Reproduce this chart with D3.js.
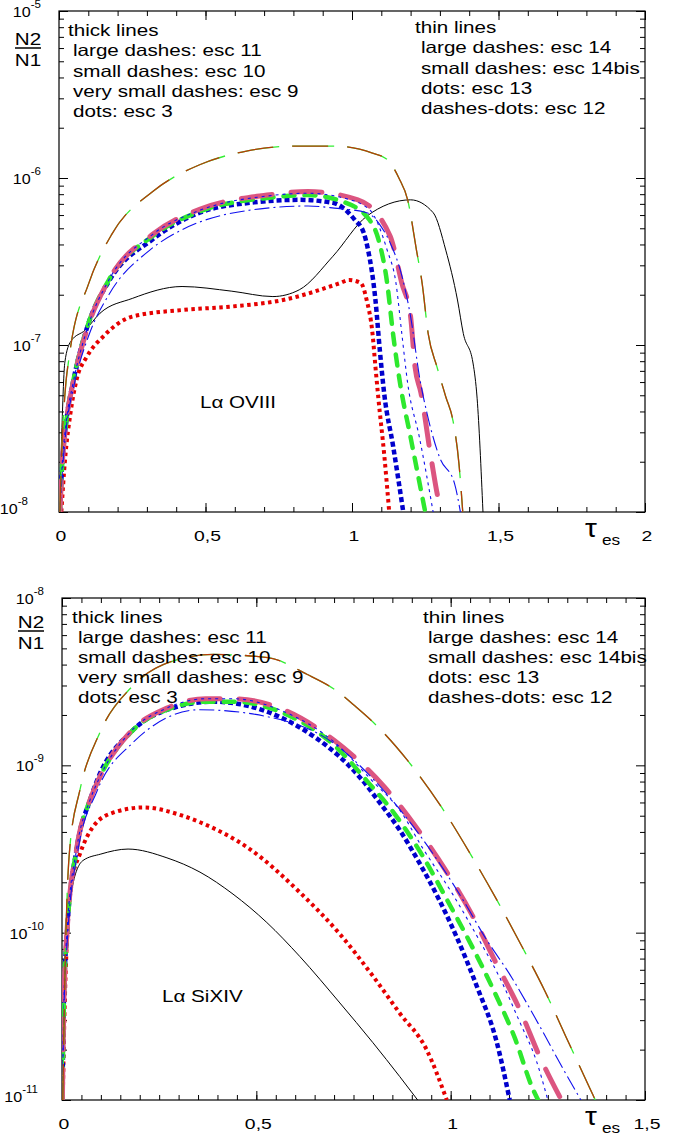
<!DOCTYPE html>
<html>
<head>
<meta charset="utf-8">
<script src="https://cdn.jsdelivr.net/npm/d3@7"></script>
<style>
  body { margin: 0; background: #fff; }
  text { font-family: "Liberation Sans", Arial, sans-serif; fill: #000; }
</style>
</head>
<body>
<div id="main"></div>
<script>
// ---- data: [tau_es, N2/N1] ----
// L-alpha OVIII (upper panel)
const ovRef = [[0.002,1e-8],[0.01,3.2e-8],[0.02,7.9e-8],[0.04,1.05e-7],[0.09,1.23e-7],[0.14,1.55e-7],[0.25,1.9e-7],[0.42,2.24e-7],[0.59,2.1e-7],[0.73,1.95e-7],[0.82,2.14e-7],[0.935,3.4e-7],[1.05,5.9e-7],[1.2,7.4e-7],[1.277,6.2e-7],[1.32,3.7e-7],[1.36,1.86e-7],[1.38,1.17e-7],[1.413,7.8e-8],[1.427,4.8e-8],[1.447,1e-8]];
const ovEsc14 = [[0.003,1e-8],[0.01,2.5e-8],[0.02,5e-8],[0.038,9.3e-8],[0.1,2.3e-7],[0.18,4.6e-7],[0.32,8.3e-7],[0.48,1.2e-6],[0.64,1.45e-6],[0.8,1.55e-6],[0.95,1.55e-6],[1.07,1.41e-6],[1.12,1.29e-6],[1.16,1.0e-6],[1.19,7.4e-7],[1.22,3.7e-7],[1.24,2.3e-7],[1.26,1.17e-7],[1.29,7.4e-8],[1.32,4.9e-8],[1.345,3.5e-8],[1.365,1.95e-8],[1.378,1e-8]];
const ovEsc11 = [[0.003,1e-8],[0.01,1.8e-8],[0.025,3.5e-8],[0.048,5.9e-8],[0.095,1.23e-7],[0.17,2.45e-7],[0.32,4.6e-7],[0.48,6.5e-7],[0.71,7.9e-7],[0.85,8.3e-7],[1.02,7.4e-7],[1.13,4.5e-7],[1.17,2.35e-7],[1.2,1.48e-7],[1.215,7.4e-8],[1.235,5.2e-8],[1.27,2.1e-8],[1.3,1.1e-8],[1.31,1e-8]];
const ovEsc10 = [[0.003,1e-8],[0.01,1.8e-8],[0.025,3.5e-8],[0.048,6e-8],[0.095,1.26e-7],[0.17,2.45e-7],[0.32,4.5e-7],[0.48,6.3e-7],[0.71,7.6e-7],[0.85,7.9e-7],[0.97,7.2e-7],[1.06,5.6e-7],[1.09,4.3e-7],[1.12,2.35e-7],[1.14,1.17e-7],[1.164,5.9e-8],[1.2,2.8e-8],[1.25,1e-8]];
const ovEsc9 = [[0.003,1e-8],[0.01,1.8e-8],[0.025,3.5e-8],[0.048,6e-8],[0.095,1.26e-7],[0.17,2.4e-7],[0.32,4.3e-7],[0.48,6.2e-7],[0.65,7.1e-7],[0.82,7.4e-7],[0.935,7.1e-7],[1.01,5.6e-7],[1.04,4.7e-7],[1.055,3.7e-7],[1.08,1.86e-7],[1.095,9.3e-8],[1.11,5.1e-8],[1.14,2.5e-8],[1.175,1e-8]];
const ovEsc3 = [[0.008,1e-8],[0.02,2e-8],[0.04,4e-8],[0.06,6.2e-8],[0.095,8.5e-8],[0.15,1.12e-7],[0.25,1.48e-7],[0.42,1.62e-7],[0.59,1.7e-7],[0.765,1.86e-7],[0.96,2.35e-7],[0.99,2.45e-7],[1.03,2.35e-7],[1.05,1.86e-7],[1.07,1.17e-7],[1.08,7.4e-8],[1.09,4.8e-8],[1.11,2.2e-8],[1.127,1e-8]];
const ovEsc12 = [[0.003,1e-8],[0.01,1.6e-8],[0.025,3.2e-8],[0.05,5.6e-8],[0.1,1.12e-7],[0.17,2e-7],[0.31,3.7e-7],[0.42,4.9e-7],[0.71,6.6e-7],[0.85,6.8e-7],[0.94,6.6e-7],[1.05,6.2e-7],[1.1,5.1e-7],[1.13,4.1e-7],[1.17,2.6e-7],[1.2,1.48e-7],[1.232,6.2e-8],[1.256,3.9e-8],[1.3,2.1e-8],[1.35,1.48e-8],[1.37,1e-8]];
const ovEsc14bis = [[0.003,1e-8],[0.01,1.8e-8],[0.025,3.5e-8],[0.048,5.9e-8],[0.095,1.23e-7],[0.17,2.45e-7],[0.32,4.6e-7],[0.48,6.4e-7],[0.71,7.8e-7],[0.85,8.1e-7],[0.97,7.6e-7],[1.06,6.45e-7],[1.12,3.7e-7],[1.15,2.35e-7],[1.17,1.17e-7],[1.19,5.9e-8],[1.23,2.8e-8],[1.277,1e-8]];

// L-alpha SiXIV (lower panel)
const siRef = [[0.001,1e-11],[0.005,4e-11],[0.013,1.1e-10],[0.026,1.86e-10],[0.054,2.7e-10],[0.1,2.95e-10],[0.17,3.16e-10],[0.27,2.8e-10],[0.355,2.3e-10],[0.44,1.7e-10],[0.527,1.15e-10],[0.612,7.2e-11],[0.715,3.8e-11],[0.8,2.2e-11],[0.869,1.38e-11],[0.915,1e-11]];
const siEsc14 = [[0.002,1e-11],[0.008,6.3e-11],[0.02,3.2e-10],[0.046,7.1e-10],[0.098,1.58e-9],[0.18,2.95e-9],[0.3,4.3e-9],[0.39,4.6e-9],[0.53,4.4e-9],[0.63,3.5e-9],[0.71,2.75e-9],[0.75,2.3e-9],[0.817,1.66e-9],[0.889,1.07e-9],[0.977,5.6e-10],[1.049,3.0e-10],[1.118,1.58e-10],[1.183,8.3e-11],[1.242,4.5e-11],[1.298,2.35e-11],[1.352,1.26e-11],[1.372,1e-11]];
const siEsc11 = [[0.001,1e-11],[0.005,4e-11],[0.013,1.02e-10],[0.038,3.2e-10],[0.072,6.2e-10],[0.093,8.1e-10],[0.18,1.62e-9],[0.27,2.2e-9],[0.37,2.5e-9],[0.44,2.5e-9],[0.57,2.15e-9],[0.7,1.41e-9],[0.83,7.4e-10],[0.907,4.4e-10],[0.99,2.3e-10],[1.054,1.29e-10],[1.118,6.5e-11],[1.177,3.5e-11],[1.229,1.82e-11],[1.285,1e-11]];
const siEsc10 = [[0.001,1e-11],[0.005,4e-11],[0.013,1e-10],[0.038,3.2e-10],[0.072,6.2e-10],[0.093,8.1e-10],[0.18,1.6e-9],[0.27,2.15e-9],[0.37,2.4e-9],[0.44,2.4e-9],[0.57,2.05e-9],[0.7,1.32e-9],[0.79,7.8e-10],[0.843,5.6e-10],[0.925,2.95e-10],[0.992,1.55e-10],[1.057,8.1e-11],[1.113,4.4e-11],[1.165,2.35e-11],[1.211,1.17e-11],[1.225,1e-11]];
const siEsc9 = [[0.001,1e-11],[0.005,4e-11],[0.013,1e-10],[0.038,3.2e-10],[0.072,6.2e-10],[0.09,8.1e-10],[0.18,1.6e-9],[0.285,2.2e-9],[0.39,2.4e-9],[0.57,1.9e-9],[0.655,1.45e-9],[0.71,1.15e-9],[0.766,8.5e-10],[0.817,6.0e-10],[0.869,4.1e-10],[0.92,2.6e-10],[0.97,1.58e-10],[1.02,8.9e-11],[1.067,4.8e-11],[1.118,2.24e-11],[1.152,1e-11]];
const siEsc3 = [[0.002,1e-11],[0.006,3e-11],[0.013,9.3e-11],[0.026,2.05e-10],[0.046,2.95e-10],[0.08,4.3e-10],[0.13,5.2e-10],[0.21,5.6e-10],[0.31,5.0e-10],[0.355,4.57e-10],[0.483,3.16e-10],[0.612,1.74e-10],[0.715,9.8e-11],[0.8,5.5e-11],[0.869,3.3e-11],[0.938,2.0e-11],[0.99,1e-11]];
const siEsc12 = [[0.001,1e-11],[0.005,3.5e-11],[0.015,1e-10],[0.04,3e-10],[0.09,7e-10],[0.18,1.35e-9],[0.355,2.15e-9],[0.53,1.95e-9],[0.7,1.35e-9],[0.8,8.3e-10],[0.925,3.7e-10],[1.031,1.58e-10],[1.087,9.5e-11],[1.157,5.4e-11],[1.224,2.9e-11],[1.293,1.48e-11],[1.335,1e-11]];
const siEsc14bis = [[0.001,1e-11],[0.005,4e-11],[0.013,1.02e-10],[0.038,3.2e-10],[0.072,6.2e-10],[0.093,8.1e-10],[0.18,1.62e-9],[0.27,2.2e-9],[0.37,2.5e-9],[0.44,2.5e-9],[0.57,2.1e-9],[0.7,1.38e-9],[0.8,8e-10],[0.869,5.4e-10],[0.928,3.2e-10],[1.005,1.7e-10],[1.075,8.9e-11],[1.126,5.4e-11],[1.177,2.95e-11],[1.221,1.7e-11],[1.25,1e-11]];

// legend texts
const thickLegend = ['thick lines', 'large dashes: esc 11', 'small dashes: esc 10', 'very small dashes: esc 9', 'dots: esc 3'];
const thinLegend = ['thin lines', 'large dashes: esc 14', 'small dashes: esc 14bis', 'dots: esc 13', 'dashes-dots: esc 12'];

// ---- line styles ----
const styles = {
    ref:     [{ color: '#000', width: 1, dash: null, cap: 'butt' }],
    esc3:    [{ color: '#e60000', width: 4, dash: '3.5,3.5', cap: 'butt' }],
    esc9:    [{ color: '#0000cc', width: 4.5, dash: '5,3', cap: 'butt' }],
    esc10:   [{ color: '#2ee82e', width: 4.5, dash: '11,10', cap: 'round' }],
    esc11:   [{ color: '#dc5580', width: 5, dash: '31,19', cap: 'round' }],
    esc12:   [{ color: '#1010ee', width: 1.1, dash: '15,4,2,4', cap: 'butt' }],
    esc14bis:[{ color: '#1010ee', width: 1.1, dash: '3,4', cap: 'butt' }],
    esc14:   [{ color: '#33ee33', width: 1.3, dash: '42,13', cap: 'butt' },
              { color: '#b8380a', width: 1.3, dash: '36,19', cap: 'butt' }]
};

const panels = [
    { id: 'ov', top: 11, bottom: 512, left: 59, right: 645, xMax: 2, xStep: 0.1, yLo: -8, yHi: -5,
      series: [['ref', ovRef], ['esc3', ovEsc3], ['esc9', ovEsc9], ['esc10', ovEsc10], ['esc11', ovEsc11],
               ['esc12', ovEsc12], ['esc14bis', ovEsc14bis], ['esc14', ovEsc14]],
      title: 'Lα OVIII', titleX: 200, titleY: 408, lowLabelX: 28,
      legL: [68, 36, 73], legR: [415, 33, 421], legStep: 20.3, fracX: 28, fracY: 45 },
    { id: 'si', top: 598, bottom: 1100, left: 62, right: 645, xMax: 1.5, xStep: 0.05, yLo: -11, yHi: -8,
      series: [['ref', siRef], ['esc3', siEsc3], ['esc9', siEsc9], ['esc10', siEsc10], ['esc11', siEsc11],
               ['esc12', siEsc12], ['esc14bis', siEsc14bis], ['esc14', siEsc14]],
      title: 'Lα SiXIV', titleX: 162, titleY: 1002, lowLabelX: 38,
      legL: [72, 623, 78], legR: [423, 623, 428], legStep: 20, fracX: 31, fracY: 628 }
];

const SX = 1.25; // the original lettering is horizontally stretched

const svg = d3.select('#main').append('svg').attr('width', 674).attr('height', 1135);

function txt(g, x, y, s, size, anchor, sx) {
    return g.append('text')
        .attr('transform', `translate(${x},${y}) scale(${sx || SX},1)`)
        .attr('font-size', size)
        .attr('text-anchor', anchor || 'start')
        .text(s);
}

panels.forEach(p => {
    const g = svg.append('g');
    const x = d3.scaleLinear().domain([0, p.xMax]).range([p.left, p.right]);
    const y = d3.scaleLog().domain([Math.pow(10, p.yLo), Math.pow(10, p.yHi)]).range([p.bottom, p.top]);

    // ticks
    const nx = Math.round(p.xMax / p.xStep);
    const xMinor = d3.range(0, nx + 1).map(i => +(i * p.xStep).toFixed(2));
    const xMajor = d3.range(0, p.xMax + 0.001, 0.5);
    const yMinor = [], yMajor = [];
    for (let e = p.yLo; e < p.yHi; e++) {
        for (let m = 1; m <= 9; m++) (m === 1 ? yMajor : yMinor).push(m * Math.pow(10, e));
    }
    yMajor.push(Math.pow(10, p.yHi));

    const axes = g.append('g').attr('color', '#000');
    const put = (axis, tr) => axes.append('g').attr('transform', tr).call(axis)
        .call(a => a.select('.domain').remove())
        .call(a => a.selectAll('line').attr('stroke-width', 1));
    put(d3.axisBottom(x).tickValues(xMinor).tickSize(-5).tickFormat(''), `translate(0,${p.bottom})`);
    put(d3.axisBottom(x).tickValues(xMajor).tickSize(-9).tickFormat(''), `translate(0,${p.bottom})`);
    put(d3.axisTop(x).tickValues(xMinor).tickSize(-5).tickFormat(''), `translate(0,${p.top})`);
    put(d3.axisTop(x).tickValues(xMajor).tickSize(-9).tickFormat(''), `translate(0,${p.top})`);
    put(d3.axisLeft(y).tickValues(yMinor).tickSize(-5).tickFormat(''), `translate(${p.left},0)`);
    put(d3.axisLeft(y).tickValues(yMajor).tickSize(-9).tickFormat(''), `translate(${p.left},0)`);
    put(d3.axisRight(y).tickValues(yMinor).tickSize(-5).tickFormat(''), `translate(${p.right},0)`);
    put(d3.axisRight(y).tickValues(yMajor).tickSize(-9).tickFormat(''), `translate(${p.right},0)`);

    g.append('rect').attr('x', p.left).attr('y', p.top)
        .attr('width', p.right - p.left).attr('height', p.bottom - p.top)
        .attr('fill', 'none').attr('stroke', '#000').attr('stroke-width', 1.2);

    // x tick labels
    xMajor.forEach(v => {
        txt(g, x(v) + 2, p.bottom + 29, String(v).replace('.', ','), 15.5, 'middle');
    });
    // y tick labels
    yMajor.forEach(v => {
        const e = Math.round(Math.log10(v));
        const lowest = e === p.yLo;
        const t = g.append('text')
            .attr('transform', `translate(${lowest ? p.lowLabelX : p.left - 18},${y(v) + (lowest ? 2 : 6)}) scale(1.15,1)`)
            .attr('text-anchor', 'end').attr('font-size', 14);
        t.append('tspan').text('10');
        t.append('tspan').attr('dy', -9).attr('font-size', 10).text(String(e));
    });

    // curves
    svg.append('clipPath').attr('id', 'clip-' + p.id).append('rect')
        .attr('x', p.left).attr('y', p.top).attr('width', p.right - p.left).attr('height', p.bottom - p.top);
    const line = d3.line().x(d => x(d[0])).y(d => y(d[1])).curve(d3.curveMonotoneX);
    const curves = g.append('g').attr('clip-path', `url(#clip-${p.id})`);
    p.series.forEach(([key, data]) => {
        styles[key].forEach(st => {
            curves.append('path').datum(data).attr('d', line)
                .attr('fill', 'none').attr('stroke', st.color).attr('stroke-width', st.width)
                .attr('stroke-dasharray', st.dash).attr('stroke-linecap', st.cap);
        });
    });

    // legend text
    thickLegend.forEach((s, i) => txt(g, i ? p.legL[2] : p.legL[0], p.legL[1] + i * p.legStep, s, 16.5));
    thinLegend.forEach((s, i) => txt(g, i ? p.legR[2] : p.legR[0], p.legR[1] + i * p.legStep, s, 16.5));
    txt(g, p.titleX, p.titleY, p.title, 16.5);

    // N2 / N1
    txt(g, p.fracX, p.fracY, 'N2', 16.5, 'middle');
    g.append('line').attr('x1', p.fracX - 13).attr('x2', p.fracX + 13)
        .attr('y1', p.fracY + 3).attr('y2', p.fracY + 3).attr('stroke', '#000').attr('stroke-width', 1.5);
    txt(g, p.fracX, p.fracY + 21, 'N1', 16.5, 'middle');

    // tau_es
    txt(g, 585, p.bottom + 25, 'τ', 25, 'start', 1.2);
    txt(g, 602, p.bottom + 33, 'es', 15, 'start', 1.15);
});
</script>
</body>
</html>
